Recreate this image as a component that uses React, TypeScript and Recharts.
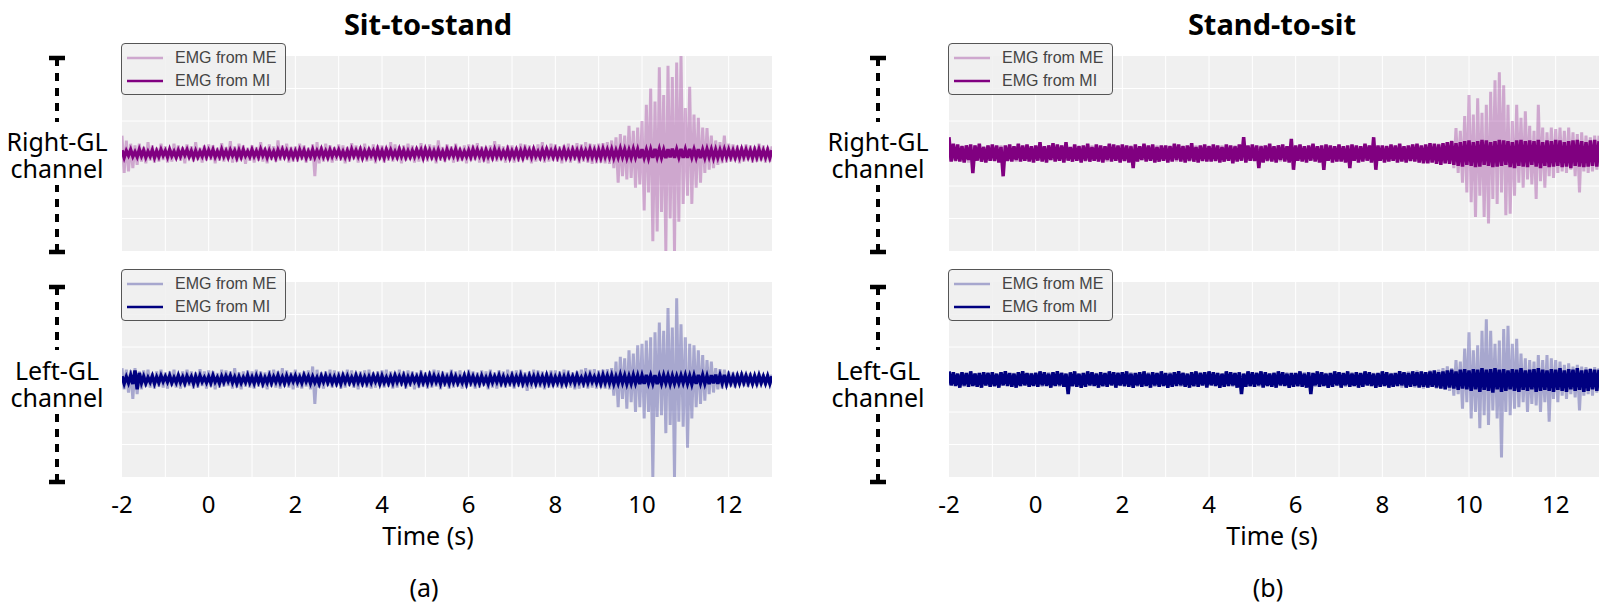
import React from "react";
import { LineChart, Line, XAxis, YAxis, CartesianGrid, Legend } from "recharts";

// EMG samples (arbitrary units), first sample at t = -2 s, one every 0.05 s,
// 20 samples per row = 1 s, 301 samples per series
const T0 = -2;
const DT = 0.05;

const X_TICKS = [-2, 0, 2, 4, 6, 8, 10, 12];
const X_GRID = [-1, 0, 1, 2, 3, 4, 5, 6, 7, 8, 9, 10, 11, 12];
const Y_GRID = [-200, -100, 0, 100, 200];

const titles = ["Sit-to-stand", "Stand-to-sit"];
const panelTags = ["(a)", "(b)"];
const channels = [
  ["Right-GL", "channel"],
  ["Left-GL", "channel"],
];
const seriesNames = ["EMG from ME", "EMG from MI"];

// Sit-to-stand, right GL
const sitRightME = [
  55, -60, 40, -55, 30, -45, 25, -35, 30, -25, 20, -30, 35, -22, 25, -28, 18, -25, 30, -20,
  22, -28, 15, -25, 30, -18, 25, -22, 20, -30, 28, -15, 22, -25, 35, -20, 18, -28, 25, -22,
  28, -20, 25, -30, 18, -22, 32, -25, 20, -18, 38, -28, 22, -25, 30, -20, 25, -32, 18, -22,
  25, -28, 20, -22, 35, -25, 18, -30, 28, -20, 22, -25, 40, -22, 25, -18, 30, -28, 20, -25,
  22, -25, 30, -20, 25, -28, 18, -22, 28, -70, 35, -30, 22, -25, 30, -20, 25, -28, 20, -22,
  28, -22, 25, -30, 20, -25, 32, -18, 25, -28, 22, -20, 30, -25, 18, -22, 28, -30, 25, -20,
  25, -28, 20, -22, 35, -25, 28, -20, 22, -30, 25, -22, 30, -18, 25, -28, 20, -25, 32, -22,
  22, -25, 28, -20, 25, -30, 40, -22, 20, -25, 28, -18, 22, -28, 30, -25, 18, -22, 25, -30,
  28, -22, 25, -20, 32, -28, 22, -25, 20, -30, 25, -22, 38, -25, 28, -20, 22, -28, 25, -22,
  25, -28, 20, -25, 30, -22, 28, -20, 25, -30, 22, -25, 28, -22, 35, -28, 20, -25, 30, -22,
  28, -25, 22, -30, 25, -20, 30, -28, 25, -22, 32, -30, 28, -25, 35, -28, 30, -32, 28, -30,
  30, -28, 32, -30, 35, -32, 40, -45, 50, -90, 60, -70, 55, -80, 85, -75, 70, -105, 80, -95,
  100, -175, 150, -120, 200, -270, 160, -240, 265, -180, 180, -300, 270, -200, 235, -300, 280, -210, 300, -155,
  140, -130, 205, -155, 120, -105, 110, -90, 80, -60, 78, -50, 55, -45, 40, -35, 35, -30, 55, -28,
  30, -25, 28, -22, 25, -30, 22, -25, 28, -20, 25, -28, 22, -25, 30, -22, 25, -28, 20, -25,
  22,
];
const sitRightMI = [
  10, -12, 8, -6, 11, -9, 5, -10, 12, -7, 9, -11, 6, -8, 10, -12, 7, -9, 11, -6,
  8, -10, 12, -7, 6, -11, 9, -8, 10, -5, 11, -9, 7, -12, 8, -10, 6, -8, 12, -9,
  9, -7, 11, -10, 6, -9, 12, -8, 7, -11, 10, -6, 8, -12, 9, -10, 11, -7, 6, -9,
  11, -8, 7, -10, 12, -6, 9, -11, 8, -9, 6, -12, 10, -7, 11, -9, 8, -10, 7, -11,
  7, -11, 10, -8, 9, -12, 6, -9, 11, -10, 8, -7, 12, -9, 7, -11, 10, -8, 9, -6,
  10, -9, 6, -11, 8, -10, 12, -7, 9, -8, 11, -12, 7, -9, 10, -6, 8, -11, 12, -9,
  8, -12, 11, -7, 10, -9, 6, -10, 12, -8, 9, -11, 7, -10, 8, -9, 11, -6, 10, -12,
  12, -8, 9, -10, 7, -11, 10, -9, 6, -12, 11, -8, 9, -7, 12, -10, 8, -11, 6, -9,
  9, -10, 12, -8, 11, -7, 8, -12, 10, -9, 7, -11, 12, -8, 9, -10, 6, -9, 11, -12,
  7, -9, 10, -11, 8, -12, 11, -7, 9, -10, 12, -8, 6, -11, 10, -9, 12, -7, 8, -10,
  11, -10, 8, -9, 12, -11, 7, -10, 11, -8, 9, -12, 10, -9, 8, -11, 12, -10, 9, -12,
  10, -12, 13, -9, 11, -10, 12, -13, 9, -11, 14, -10, 12, -13, 10, -12, 13, -11, 12, -14,
  13, -12, 11, -14, 12, -13, 14, -11, 13, -12, 11, -14, 13, -12, 15, -13, 12, -11, 14, -13,
  12, -13, 14, -11, 12, -12, 13, -14, 11, -12, 13, -10, 12, -13, 11, -12, 10, -11, 12, -10,
  11, -10, 9, -12, 10, -11, 12, -9, 11, -10, 9, -12, 10, -11, 12, -10, 9, -11, 10, -12,
  10,
];

// Sit-to-stand, left GL
const sitLeftME = [
  35, -30, 30, -40, 28, -60, 35, -45, 25, -30, 28, -22, 30, -25, 20, -28, 25, -22, 30, -25,
  22, -28, 25, -20, 30, -25, 18, -28, 25, -22, 30, -20, 25, -28, 22, -25, 32, -20, 25, -28,
  28, -22, 25, -30, 20, -25, 30, -22, 28, -20, 25, -28, 35, -25, 22, -30, 25, -22, 28, -25,
  25, -28, 30, -22, 25, -25, 22, -30, 28, -22, 30, -25, 25, -28, 35, -22, 28, -25, 22, -30,
  30, -25, 22, -28, 25, -22, 28, -30, 40, -75, 30, -25, 22, -28, 25, -20, 30, -25, 28, -22,
  25, -28, 22, -25, 30, -20, 28, -25, 22, -30, 25, -22, 28, -25, 30, -28, 22, -25, 25, -20,
  28, -25, 30, -22, 25, -28, 22, -25, 30, -20, 25, -28, 28, -22, 25, -30, 22, -25, 28, -22,
  22, -28, 25, -25, 30, -22, 28, -30, 25, -22, 22, -28, 30, -25, 25, -22, 28, -28, 22, -25,
  30, -22, 25, -28, 22, -25, 28, -20, 25, -30, 30, -25, 22, -28, 28, -22, 25, -25, 30, -22,
  25, -28, 28, -22, 30, -25, 22, -35, 25, -28, 30, -22, 28, -25, 25, -30, 22, -25, 28, -22,
  28, -25, 25, -28, 30, -22, 28, -25, 22, -30, 25, -28, 30, -25, 35, -28, 30, -25, 32, -28,
  28, -25, 30, -28, 32, -30, 35, -50, 55, -85, 70, -60, 65, -90, 90, -70, 80, -100, 105, -85,
  110, -120, 120, -100, 130, -300, 145, -115, 175, -110, 150, -165, 220, -140, 160, -300, 250, -130, 170, -145,
  130, -210, 110, -120, 105, -85, 90, -75, 75, -65, 60, -45, 55, -40, 35, -30, 32, -28, 30, -25,
  25, -22, 22, -25, 20, -18, 22, -20, 18, -22, 20, -18, 15, -20, 18, -15, 16, -18, 15, -16,
  15,
];
const sitLeftMI = [
  10, -12, 8, -10, 12, -14, 28, -30, 20, -10, 9, -11, 6, -8, 10, -12, 7, -9, 11, -6,
  9, -7, 11, -10, 6, -9, 12, -8, 7, -11, 10, -6, 8, -12, 9, -10, 11, -7, 6, -9,
  8, -10, 12, -7, 6, -11, 9, -8, 10, -5, 11, -9, 7, -12, 8, -10, 6, -8, 12, -9,
  7, -11, 10, -8, 9, -12, 6, -9, 11, -10, 8, -7, 12, -9, 7, -11, 10, -8, 9, -6,
  11, -8, 7, -10, 12, -6, 9, -11, 8, -9, 6, -12, 10, -7, 11, -9, 8, -10, 7, -11,
  8, -12, 11, -7, 10, -9, 6, -10, 12, -8, 9, -11, 7, -10, 8, -9, 11, -6, 10, -12,
  10, -9, 6, -11, 8, -10, 12, -7, 9, -8, 11, -12, 7, -9, 10, -6, 8, -11, 12, -9,
  9, -10, 12, -8, 11, -7, 8, -12, 10, -9, 7, -11, 12, -8, 9, -10, 6, -9, 11, -12,
  12, -8, 9, -10, 7, -11, 10, -9, 6, -12, 11, -8, 9, -7, 12, -10, 8, -11, 6, -9,
  11, -10, 8, -9, 12, -11, 7, -10, 11, -8, 9, -12, 10, -9, 8, -11, 12, -10, 9, -12,
  7, -9, 10, -11, 8, -12, 11, -7, 9, -10, 12, -8, 6, -11, 10, -9, 12, -7, 8, -10,
  10, -12, 13, -9, 11, -10, 12, -13, 9, -11, 14, -10, 12, -13, 10, -12, 13, -11, 12, -14,
  12, -13, 14, -11, 12, -12, 13, -14, 11, -12, 13, -10, 12, -13, 11, -12, 10, -11, 12, -10,
  13, -12, 11, -14, 12, -13, 14, -11, 13, -12, 11, -14, 13, -12, 15, -13, 12, -11, 14, -13,
  11, -10, 9, -12, 10, -11, 12, -9, 11, -10, 9, -12, 10, -11, 12, -10, 9, -11, 10, -12,
  10,
];

// Stand-to-sit, right GL
const standRightME = [
  28, -22, 20, -25, 18, -22, 25, -20, 22, -28, 20, -18, 25, -22, 18, -25, 22, -20, 25, -22,
  20, -25, 22, -18, 25, -22, 20, -25, 18, -20, 22, -25, 28, -22, 20, -18, 25, -22, 20, -25,
  22, -20, 25, -22, 18, -25, 22, -20, 25, -18, 20, -22, 25, -25, 22, -20, 18, -22, 25, -20,
  25, -22, 20, -25, 22, -18, 25, -22, 20, -25, 18, -20, 22, -25, 25, -22, 20, -18, 22, -25,
  20, -25, 22, -20, 25, -22, 18, -25, 22, -20, 25, -18, 20, -22, 22, -25, 25, -20, 18, -22,
  22, -20, 25, -22, 20, -25, 22, -18, 25, -22, 20, -25, 18, -20, 25, -22, 22, -25, 20, -18,
  25, -22, 18, -25, 22, -20, 25, -22, 20, -18, 22, -25, 25, -20, 18, -22, 20, -25, 22, -20,
  20, -25, 22, -18, 25, -22, 20, -25, 22, -20, 18, -22, 25, -25, 20, -18, 22, -20, 25, -22,
  22, -20, 25, -22, 18, -25, 22, -20, 25, -22, 20, -18, 22, -25, 25, -22, 18, -20, 22, -25,
  25, -22, 20, -25, 22, -18, 25, -22, 20, -25, 22, -20, 18, -22, 25, -25, 22, -20, 20, -22,
  22, -25, 25, -20, 20, -22, 22, -25, 25, -22, 18, -20, 22, -25, 28, -22, 25, -28, 22, -25,
  25, -22, 28, -25, 22, -28, 30, -25, 28, -30, 35, -28, 40, -45, 78, -60, 70, -90, 115, -120,
  180, -150, 120, -195, 170, -130, 125, -195, 150, -215, 190, -140, 225, -155, 250, -120, 210, -190, 150, -185,
  100, -130, 150, -90, 110, -105, 130, -80, 85, -95, 70, -140, 150, -85, 80, -105, 65, -70, 80, -75,
  75, -60, 80, -55, 70, -60, 80, -50, 65, -70, 60, -120, 65, -55, 55, -60, 50, -55, 55, -50,
  55,
];
const standRightMI = [
  50, -25, 30, -22, 28, -25, 22, -28, 25, -20, 28, -60, 25, -22, 30, -25, 20, -28, 25, -22,
  28, -22, 25, -28, 20, -70, 25, -22, 28, -25, 22, -20, 30, -25, 25, -22, 28, -25, 22, -28,
  25, -22, 35, -25, 22, -28, 25, -20, 32, -25, 28, -22, 25, -28, 35, -22, 20, -25, 28, -22,
  22, -28, 25, -22, 30, -25, 20, -22, 28, -25, 25, -28, 22, -20, 30, -25, 28, -22, 25, -28,
  28, -22, 25, -28, 22, -45, 28, -25, 22, -20, 30, -25, 25, -22, 28, -28, 20, -25, 25, -22,
  25, -28, 22, -25, 30, -20, 28, -25, 22, -28, 25, -22, 32, -25, 20, -28, 25, -22, 28, -25,
  22, -25, 28, -22, 25, -28, 20, -25, 28, -22, 25, -30, 22, -25, 28, -22, 50, -28, 25, -22,
  28, -22, 25, -45, 22, -28, 25, -22, 30, -25, 22, -28, 25, -20, 28, -25, 22, -28, 45, -50,
  25, -22, 28, -25, 22, -28, 25, -22, 30, -25, 22, -28, 25, -50, 28, -22, 25, -28, 22, -25,
  28, -25, 22, -28, 25, -45, 28, -22, 25, -28, 22, -25, 30, -22, 25, -28, 50, -50, 25, -22,
  25, -28, 22, -25, 28, -22, 25, -28, 30, -25, 22, -28, 25, -22, 28, -25, 30, -28, 25, -30,
  28, -30, 32, -28, 30, -32, 28, -35, 32, -30, 35, -32, 38, -35, 32, -38, 35, -40, 38, -35,
  40, -38, 35, -42, 38, -40, 42, -35, 40, -38, 35, -42, 38, -40, 42, -38, 40, -35, 38, -42,
  35, -45, 40, -38, 42, -40, 38, -42, 40, -35, 38, -40, 42, -45, 35, -38, 40, -42, 38, -40,
  42, -38, 40, -42, 35, -40, 38, -45, 40, -38, 42, -40, 38, -42, 35, -40, 40, -38, 42, -40,
  38,
];

// Stand-to-sit, left GL
const standLeftME = [
  20, -18, 22, -15, 18, -20, 15, -22, 20, -18, 22, -20, 18, -15, 20, -22, 15, -18, 22, -20,
  18, -22, 15, -20, 22, -18, 20, -15, 18, -22, 20, -18, 15, -20, 22, -18, 18, -22, 20, -15,
  22, -20, 18, -22, 15, -18, 22, -20, 20, -15, 18, -22, 22, -18, 15, -20, 20, -22, 18, -18,
  15, -18, 20, -22, 18, -20, 22, -15, 20, -18, 15, -22, 18, -20, 22, -18, 20, -15, 22, -20,
  20, -22, 15, -18, 22, -20, 18, -22, 15, -18, 20, -20, 22, -15, 18, -22, 20, -18, 15, -20,
  18, -20, 22, -18, 20, -15, 18, -22, 22, -20, 15, -18, 20, -22, 18, -20, 22, -15, 20, -18,
  22, -15, 18, -20, 20, -22, 15, -18, 22, -20, 18, -22, 20, -15, 22, -18, 15, -20, 18, -22,
  20, -18, 22, -22, 18, -15, 20, -20, 15, -22, 22, -18, 18, -20, 20, -15, 22, -22, 18, -18,
  15, -22, 20, -18, 22, -20, 18, -15, 20, -22, 15, -18, 22, -20, 20, -22, 18, -15, 22, -20,
  22, -20, 18, -22, 15, -18, 22, -20, 20, -15, 18, -22, 22, -18, 15, -20, 20, -22, 18, -18,
  18, -20, 22, -18, 20, -22, 18, -20, 22, -25, 20, -22, 25, -20, 22, -25, 28, -22, 25, -28,
  22, -25, 28, -22, 25, -28, 30, -25, 35, -30, 40, -35, 35, -50, 60, -45, 55, -90, 95, -70,
  145, -120, 90, -100, 105, -150, 150, -110, 185, -140, 150, -95, 110, -120, 120, -240, 155, -100, 165, -110,
  110, -90, 125, -85, 80, -70, 65, -100, 60, -75, 55, -80, 75, -100, 60, -70, 75, -130, 65, -60,
  60, -70, 55, -50, 45, -60, 50, -45, 40, -55, 45, -95, 40, -50, 38, -45, 35, -50, 38, -40,
  35,
];
const standLeftMI = [
  25, -18, 22, -20, 18, -25, 22, -18, 20, -22, 25, -20, 18, -22, 20, -25, 22, -18, 20, -22,
  22, -20, 18, -25, 22, -18, 25, -20, 20, -22, 18, -25, 22, -20, 25, -18, 20, -22, 18, -20,
  20, -22, 25, -18, 22, -20, 18, -25, 22, -20, 25, -18, 20, -22, 18, -45, 22, -20, 25, -22,
  18, -25, 20, -22, 25, -18, 22, -20, 18, -25, 22, -20, 20, -22, 25, -18, 22, -25, 20, -18,
  22, -20, 25, -22, 18, -25, 20, -18, 22, -22, 25, -20, 18, -25, 22, -18, 20, -22, 25, -20,
  20, -25, 18, -22, 22, -20, 25, -18, 20, -22, 18, -25, 22, -20, 25, -22, 20, -18, 22, -25,
  25, -18, 22, -20, 20, -25, 18, -22, 25, -20, 22, -18, 20, -25, 22, -45, 18, -22, 25, -20,
  22, -22, 20, -18, 25, -25, 22, -20, 18, -22, 20, -25, 25, -18, 22, -20, 18, -25, 20, -22,
  20, -20, 25, -22, 18, -25, 22, -45, 20, -18, 25, -22, 22, -20, 18, -25, 20, -22, 25, -18,
  22, -25, 20, -18, 25, -22, 18, -20, 22, -25, 20, -22, 25, -18, 22, -20, 18, -25, 20, -22,
  25, -20, 22, -25, 18, -22, 20, -20, 25, -18, 22, -25, 20, -22, 25, -20, 22, -25, 25, -22,
  22, -25, 25, -22, 28, -25, 22, -28, 25, -30, 28, -25, 30, -28, 25, -32, 30, -28, 32, -30,
  28, -35, 32, -30, 30, -38, 35, -32, 30, -35, 32, -40, 35, -30, 30, -38, 32, -35, 28, -30,
  32, -35, 30, -38, 35, -32, 28, -35, 30, -30, 32, -38, 35, -35, 30, -32, 28, -35, 32, -38,
  30, -32, 35, -35, 28, -38, 32, -30, 30, -35, 35, -32, 28, -38, 30, -35, 32, -30, 30, -35,
  30,
];

const PURPLE = "#800080";
const NAVY = "#000080";
const PLOT_W = 650;
const PLOT_H = 195;
const AXIS_H = 45;
const PAD_L = 24;
const PAD_R = 12;
const SANS = "'Noto Sans', 'Open Sans', sans-serif";

const TimeTick = (props: any) => {
  const { x, y, payload } = props;
  return (
    <text x={x} y={y + 36} textAnchor="middle" fontFamily={SANS} fontSize={24} fill="#000">
      {payload.value}
    </text>
  );
};

const LegendBox = ({ payload, color }: any) => {
  const items = payload && payload.length ? payload : seriesNames.map((n) => ({ value: n }));
  return (
    <div
      style={{
        width: 163,
        height: 50,
        border: "1.5px solid #555",
        borderRadius: 4,
        background: "rgba(240,240,240,0.85)",
        position: "relative",
      }}
    >
      {items.map((item: any, i: number) => (
        <div
          key={`lg-${i}`}
          style={{
            position: "absolute",
            left: 5,
            top: i === 0 ? 3 : 26,
            height: 22,
            display: "flex",
            alignItems: "center",
            whiteSpace: "nowrap",
          }}
        >
          <svg width={36} height={6} style={{ display: "block" }}>
            <line
              x1={0}
              x2={36}
              y1={3}
              y2={3}
              stroke={color}
              strokeOpacity={i === 0 ? 0.3 : 1}
              strokeWidth={2.5}
            />
          </svg>
          <span
            style={{
              marginLeft: 12,
              fontFamily: "'Liberation Sans', Arial, sans-serif",
              fontSize: 16,
              color: "#444",
            }}
          >
            {item.value}
          </span>
        </div>
      ))}
    </div>
  );
};

const Panel = ({ me, mi, color, left, top, axis, miWidth }: any) => {
  const data = me.map((v: number, i: number) => ({
    t: Math.round((T0 + i * DT) * 100) / 100,
    me: v,
    mi: mi[i],
  }));
  return (
    <div style={{ position: "absolute", left: left - PAD_L, top }}>
      <LineChart
        width={PLOT_W + PAD_L + PAD_R}
        height={PLOT_H + (axis ? AXIS_H : 0)}
        data={data}
        margin={{ top: 0, right: PAD_R, bottom: 0, left: PAD_L }}
      >
        <CartesianGrid
          fill="#f0f0f0"
          stroke="#ffffff"
          strokeWidth={1}
          horizontalValues={Y_GRID}
          verticalValues={X_GRID}
        />
        <XAxis
          dataKey="t"
          type="number"
          domain={[-2, 13]}
          ticks={X_TICKS}
          interval={0}
          hide={!axis}
          height={axis ? AXIS_H : 0}
          tickLine={false}
          axisLine={false}
          tickSize={0}
          tickMargin={0}
          tick={<TimeTick />}
          allowDataOverflow
        />
        <YAxis type="number" domain={[-300, 300]} hide allowDataOverflow />
        <Line
          type="linear"
          dataKey="me"
          name={seriesNames[0]}
          stroke={color}
          strokeOpacity={0.3}
          strokeWidth={3}
          dot={false}
          activeDot={false}
          isAnimationActive={false}
        />
        <Line
          type="linear"
          dataKey="mi"
          name={seriesNames[1]}
          stroke={color}
          strokeWidth={miWidth}
          dot={false}
          activeDot={false}
          isAnimationActive={false}
        />
        <Legend
          layout="vertical"
          align="center"
          verticalAlign="middle"
          wrapperStyle={{ position: "absolute", left: PAD_L - 1, top: -13, width: 166, margin: 0 }}
          content={<LegendBox color={color} />}
        />
      </LineChart>
    </div>
  );
};

const ScaleBar = ({ x, y1, y2, gap1, gap2 }: any) => (
  <g stroke="#000">
    <line x1={x - 8} x2={x + 8} y1={y1} y2={y1} strokeWidth={4.5} />
    <line x1={x - 8} x2={x + 8} y1={y2} y2={y2} strokeWidth={4.5} />
    <line x1={x} x2={x} y1={y1} y2={gap1} strokeWidth={4} strokeDasharray="8 7" />
    <line x1={x} x2={x} y1={y2} y2={gap2} strokeWidth={4} strokeDasharray="8 7" />
  </g>
);

const ChannelLabel = ({ x, y, lines }: any) => (
  <text x={x} y={y} textAnchor="middle" fontFamily={SANS} fontSize={25} fill="#000">
    <tspan x={x} y={y}>{lines[0]}</tspan>
    <tspan x={x} y={y + 27}>{lines[1]}</tspan>
  </text>
);

const App = () => {
  const colLeft = [122, 949];
  const textCenter = [428, 1272];
  const barX = [57, 878];
  return (
    <div style={{ position: "absolute", left: 0, top: 0, width: 1619, height: 606, background: "#fff" }}>
      <Panel me={sitRightME} mi={sitRightMI} color={PURPLE} left={colLeft[0]} top={56} axis={false} miWidth={3.5} />
      <Panel me={sitLeftME} mi={sitLeftMI} color={NAVY} left={colLeft[0]} top={282} axis miWidth={3.5} />
      <Panel me={standRightME} mi={standRightMI} color={PURPLE} left={colLeft[1]} top={56} axis={false} miWidth={3.5} />
      <Panel me={standLeftME} mi={standLeftMI} color={NAVY} left={colLeft[1]} top={282} axis miWidth={3.5} />
      <svg
        width={1619}
        height={606}
        style={{ position: "absolute", left: 0, top: 0, pointerEvents: "none" }}
      >
        {[0, 1].map((c) => (
          <g key={`col-${c}`}>
            <text
              x={textCenter[c]}
              y={35}
              textAnchor="middle"
              fontFamily={SANS}
              fontWeight="bold"
              fontSize={29}
              fill="#000"
            >
              {titles[c]}
            </text>
            <text x={textCenter[c]} y={545} textAnchor="middle" fontFamily={SANS} fontSize={25} fill="#000">
              Time (s)
            </text>
            <text x={textCenter[c] - 4} y={597} textAnchor="middle" fontFamily={SANS} fontSize={25} fill="#000">
              {panelTags[c]}
            </text>
            <ScaleBar x={barX[c]} y1={58} y2={252} gap1={122} gap2={185} />
            <ScaleBar x={barX[c]} y1={287} y2={482} gap1={350} gap2={414} />
            <ChannelLabel x={barX[c]} y={151} lines={channels[0]} />
            <ChannelLabel x={barX[c]} y={380} lines={channels[1]} />
          </g>
        ))}
      </svg>
    </div>
  );
};

export default App;
